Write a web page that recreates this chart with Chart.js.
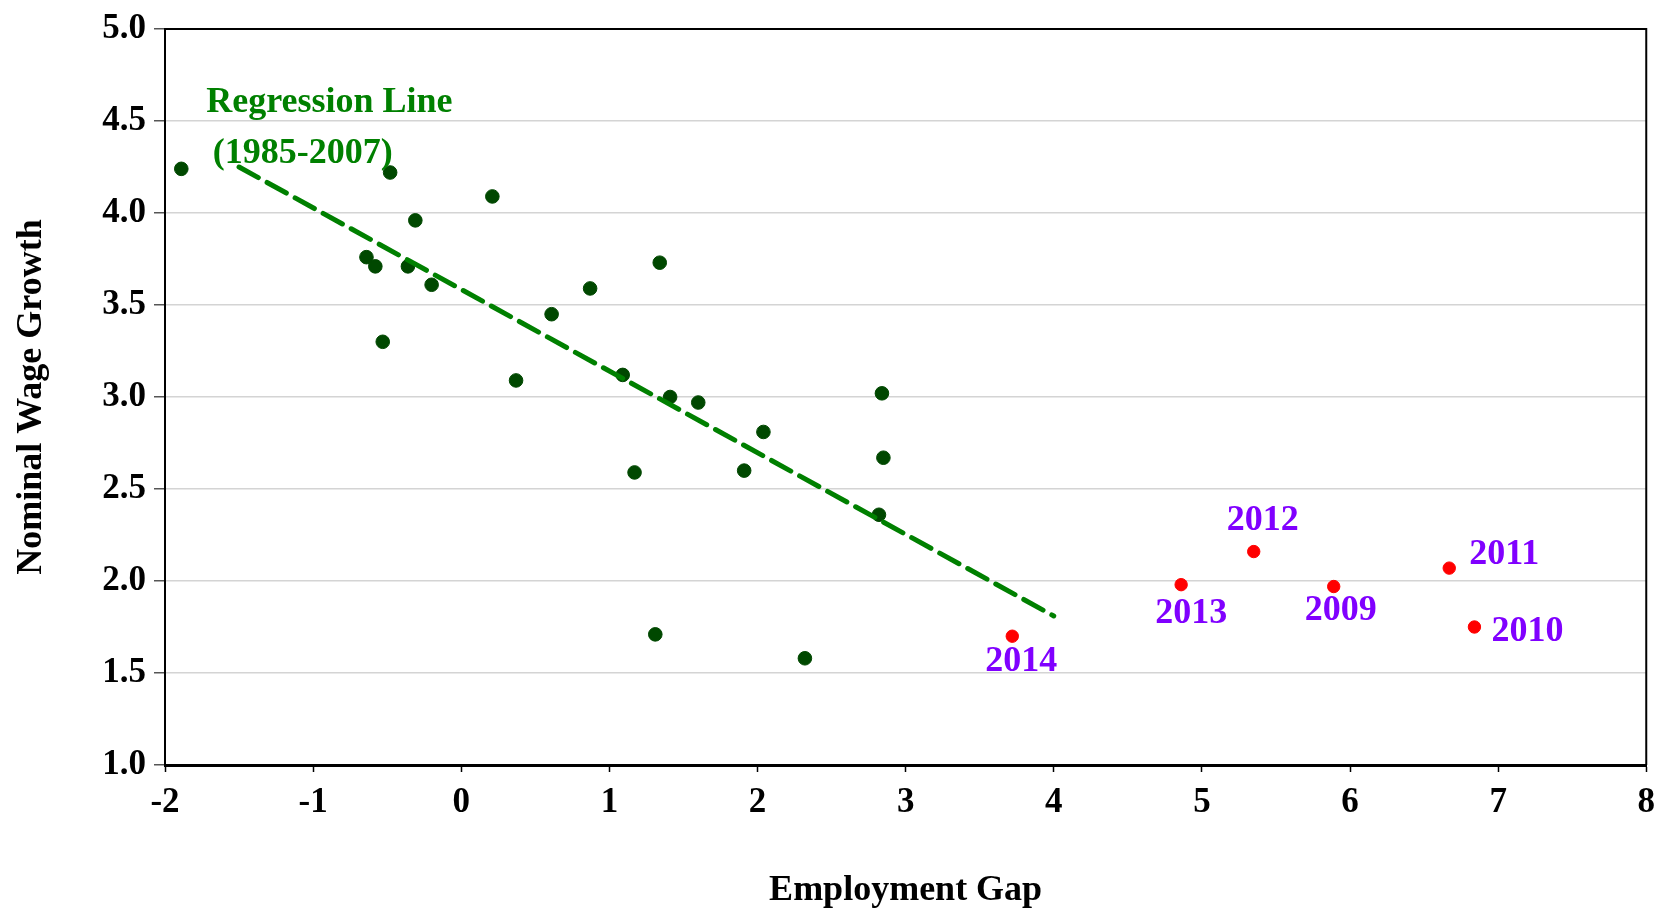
<!DOCTYPE html>
<html>
<head>
<meta charset="utf-8">
<script src="https://cdn.jsdelivr.net/npm/chart.js"></script>
<style>
  body { margin: 0; background: #fff; }
  #wrap { width: 1665px; height: 912px; }
</style>
</head>
<body>
<div id="wrap"><canvas id="myChart" width="1665" height="912"></canvas></div>
<script>
// 1985-2007 observations
const gapPre = [-1.89, -0.48, 0.21, -0.31, -0.64, -0.58, -0.36, -0.20, -0.53, 0.37, 0.87, 0.61,
  1.34, 1.09, 1.41, 1.60, 1.17, 2.04, 1.91, 2.84, 2.85, 2.82, 1.31, 2.32];
const wagePre = [4.24, 4.22, 4.09, 3.96, 3.76, 3.71, 3.71, 3.61, 3.30, 3.09, 3.59, 3.45,
  3.73, 3.12, 3.00, 2.97, 2.59, 2.81, 2.60, 3.02, 2.67, 2.36, 1.71, 1.58];

// post-2008 observations
const yearsPost = ["2009", "2010", "2011", "2012", "2013", "2014"];
const gapPost = [5.89, 6.84, 6.67, 5.35, 4.86, 3.72];
const wagePost = [1.97, 1.75, 2.07, 2.16, 1.98, 1.70];

// regression line (1985-2007)
const regX = [-1.5, 4.0];
const regY = [4.25, 1.81];

const xTicks = [-2, -1, 0, 1, 2, 3, 4, 5, 6, 7, 8];
const yTicks = [1.0, 1.5, 2.0, 2.5, 3.0, 3.5, 4.0, 4.5, 5.0];

const SERIF = "'Liberation Serif', 'Times New Roman', serif";
const GREEN = "#008000";
const PURPLE = "#8000ff";

// where each year label sits relative to its dot (px)
const yearLabelOffset = {
  "2009": [7, 24], "2010": [53, 5], "2011": [55, -13],
  "2012": [9, -31], "2013": [10, 29], "2014": [9, 26],
};

const zip = (xs, ys) => xs.map((x, i) => ({ x, y: ys[i] }));

const boxPlugin = {
  id: "box",
  afterDraw(chart) {
    const { ctx, chartArea: a } = chart;
    ctx.save();
    ctx.strokeStyle = "#000";
    ctx.lineWidth = 2;
    ctx.beginPath();
    ctx.moveTo(a.left, a.top);
    ctx.lineTo(a.right, a.top);
    ctx.lineTo(a.right, a.bottom);
    ctx.stroke();
    ctx.restore();
  },
};

const labelPlugin = {
  id: "labels",
  afterDatasetsDraw(chart) {
    const { ctx, scales } = chart;
    const sx = scales.x, sy = scales.y;
    ctx.save();
    ctx.textAlign = "center";
    ctx.textBaseline = "middle";
    ctx.font = "bold 36px " + SERIF;
    ctx.fillStyle = GREEN;
    ctx.fillText("Regression Line", sx.getPixelForValue(-0.89), sy.getPixelForValue(4.60));
    ctx.fillText("(1985-2007)", sx.getPixelForValue(-1.07), sy.getPixelForValue(4.32));

    ctx.fillStyle = PURPLE;
    yearsPost.forEach((yr, i) => {
      const [dx, dy] = yearLabelOffset[yr];
      const px = sx.getPixelForValue(gapPost[i]);
      const py = sy.getPixelForValue(wagePost[i]);
      ctx.fillText(yr, px + dx, py + dy);
    });
    ctx.restore();
  },
};

const ctx = document.getElementById("myChart").getContext("2d");
new Chart(ctx, {
  type: "scatter",
  data: {
    datasets: [
      {
        label: "Regression",
        data: zip(regX, regY),
        showLine: true,
        borderColor: GREEN,
        borderWidth: 5,
        borderDash: [22, 10],
        pointRadius: 0,
        borderCapStyle: "round",
      },
      {
        label: "1985-2007",
        data: zip(gapPre, wagePre),
        backgroundColor: "#004800",
        borderColor: "#004800",
        pointRadius: 6.8,
      },
      {
        label: "2009-2014",
        data: zip(gapPost, wagePost),
        backgroundColor: "#ff0000",
        borderColor: "#ff0000",
        pointRadius: 6.2,
      },
    ],
  },
  options: {
    responsive: false,
    animation: false,
    layout: { padding: { top: 29, right: 13, left: 0, bottom: 0 } },
    plugins: {
      legend: { display: false },
      tooltip: { enabled: false },
    },
    scales: {
      x: {
        type: "linear",
        min: -2,
        max: 8,
        afterBuildTicks: (scale) => {
          scale.ticks = xTicks.map((v) => ({ value: v }));
        },
        afterFit: (scale) => {
          scale.height = 147;
        },
        grid: {
          drawOnChartArea: false,
          drawTicks: true,
          tickLength: 7,
          tickColor: "#000",
          tickWidth: 1.5,
        },
        border: { display: true, color: "#000", width: 3 },
        ticks: {
          color: "#000",
          font: { family: SERIF, size: 35, weight: "bold" },
          padding: 10,
          maxRotation: 0,
          callback: (v) => String(v),
        },
        title: {
          display: true,
          text: "Employment Gap",
          color: "#000",
          font: { family: SERIF, size: 36, weight: "bold" },
          padding: { top: 0, bottom: 0 },
        },
      },
      y: {
        type: "linear",
        min: 1,
        max: 5,
        afterBuildTicks: (scale) => {
          scale.ticks = yTicks.map((v) => ({ value: v }));
        },
        afterFit: (scale) => {
          scale.width = 165;
        },
        grid: {
          color: "#d4d4d4",
          lineWidth: 1.5,
          drawTicks: true,
          tickLength: 11,
          tickColor: "#555",
          tickWidth: 1.5,
        },
        border: { display: true, color: "#000", width: 2 },
        ticks: {
          color: "#000",
          font: { family: SERIF, size: 35, weight: "bold" },
          padding: 8,
          callback: (v) => v.toFixed(1),
        },
        title: {
          display: true,
          text: "Nominal Wage Growth",
          color: "#000",
          font: { family: SERIF, size: 36, weight: "bold" },
          padding: { top: 10, bottom: 0 },
        },
      },
    },
  },
  plugins: [boxPlugin, labelPlugin],
});
</script>
</body>
</html>
